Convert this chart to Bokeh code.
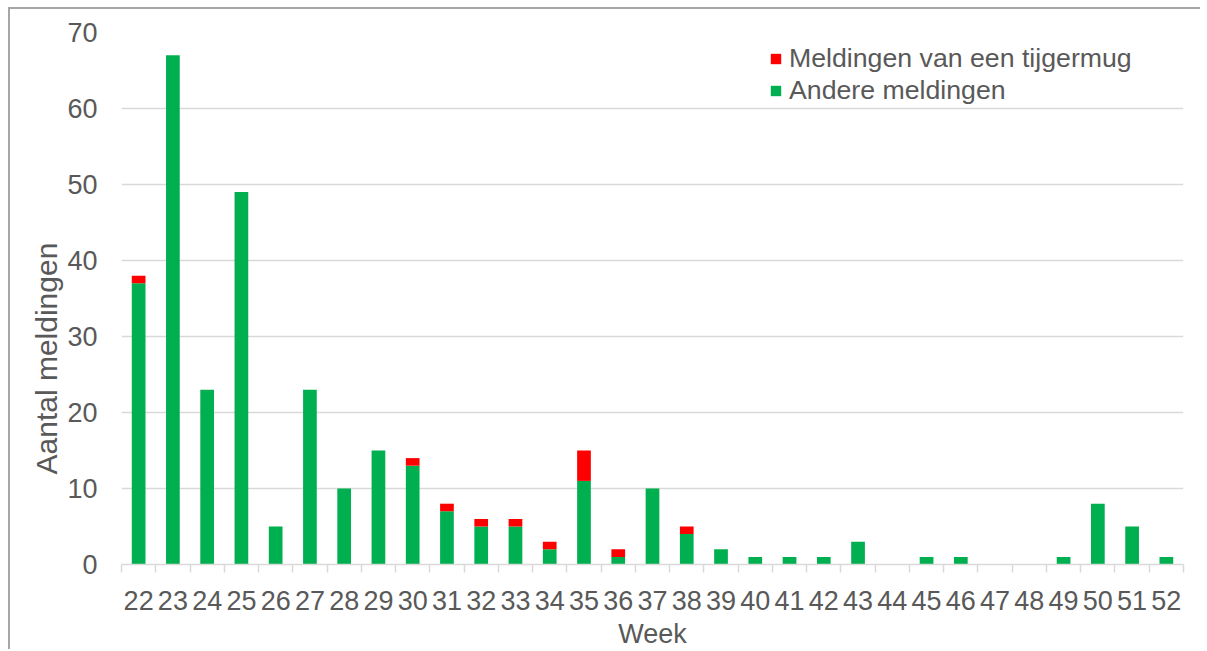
from bokeh.plotting import figure
from bokeh.models import ColumnDataSource, FixedTicker, Range1d, Legend, LegendItem, Title
from bokeh.embed import file_html
from bokeh.resources import INLINE

weeks = list(range(22, 53))
andere = [37, 67, 23, 49, 5, 23, 10, 15, 13, 7, 5, 5, 2, 11, 1, 10, 4, 2, 1, 1, 1, 3, 0, 1, 1, 0, 0, 1, 8, 5, 1]
tijgermug = [1, 0, 0, 0, 0, 0, 0, 0, 1, 1, 1, 1, 1, 4, 1, 0, 1, 0, 0, 0, 0, 0, 0, 0, 0, 0, 0, 0, 0, 0, 0]
y_ticks = [0, 10, 20, 30, 40, 50, 60, 70]

src = ColumnDataSource(dict(week=weeks, andere=andere, tijger=tijgermug,
                            total=[a + t for a, t in zip(andere, tijgermug)]))

TXT = "#595959"
FONT = "Liberation Sans"

p = figure(width=1197, height=642, output_backend="svg", toolbar_location=None,
           x_range=Range1d(21.5, 52.5), y_range=Range1d(0, 70),
           min_border_left=111, min_border_right=24, min_border_top=23, min_border_bottom=86,
           styles={"margin-left": "8px", "margin-top": "7px",
                   "border-left": "2px solid #a6a6a6", "border-top": "2px solid #a6a6a6",
                   "clip-path": "inset(0px 5px 0px 0px)"})
p.outline_line_color = None
p.background_fill_color = "white"

g = p.vbar(x="week", bottom=0, top="andere", width=0.40, source=src,
           fill_color="#00B050", line_color=None)
r = p.vbar(x="week", bottom="andere", top="total", width=0.40, source=src,
           fill_color="#FF0000", line_color=None)

p.xgrid.grid_line_color = None
p.ygrid.grid_line_color = "#D9D9D9"
p.ygrid.grid_line_width = 1.5
p.yaxis.ticker = FixedTicker(ticks=y_ticks)
p.yaxis.axis_line_color = None
p.yaxis.major_tick_line_color = None
p.yaxis.minor_tick_line_color = None
p.yaxis.major_tick_out = 0
p.yaxis.major_label_standoff = 24

ytitle = Title(text="Aantal meldingen", align="left", offset=90,
               text_font=FONT, text_font_size="30px", text_font_style="normal",
               text_color=TXT, standoff=4)
p.add_layout(ytitle, "left")

p.xaxis.ticker = FixedTicker(ticks=weeks, minor_ticks=[w - 0.5 for w in weeks] + [52.5])
p.xaxis.major_tick_line_color = None
p.xaxis.major_tick_out = 0
p.xaxis.minor_tick_line_color = "#D9D9D9"
p.xaxis.minor_tick_line_width = 1.5
p.xaxis.minor_tick_out = 8
p.xaxis.minor_tick_in = 0
p.xaxis.axis_line_color = "#D9D9D9"
p.xaxis.axis_line_width = 1.5
p.xaxis.major_label_standoff = 18
p.xaxis.axis_label = "Week"
p.xaxis.axis_label_standoff = 6

for ax in (p.xaxis, p.yaxis):
    ax.major_label_text_font = FONT
    ax.major_label_text_font_size = "27px"
    ax.major_label_text_color = TXT
    ax.axis_label_text_font = FONT
    ax.axis_label_text_font_size = "27px"
    ax.axis_label_text_font_style = "normal"
    ax.axis_label_text_color = TXT

legend = Legend(items=[LegendItem(label="Meldingen van een tijgermug", renderers=[r]),
                       LegendItem(label="Andere meldingen", renderers=[g])],
                location=(648, 458))
legend.label_text_font = FONT
legend.label_text_font_size = "26.7px"
legend.label_text_color = TXT
legend.glyph_width = 13
legend.glyph_height = 13
legend.label_standoff = 7
legend.spacing = 1
legend.padding = 6
legend.margin = 0
legend.border_line_color = None
legend.background_fill_alpha = 0.75
legend.label_height = 28
p.add_layout(legend)

open("out.html", "w").write(file_html(p, INLINE))
